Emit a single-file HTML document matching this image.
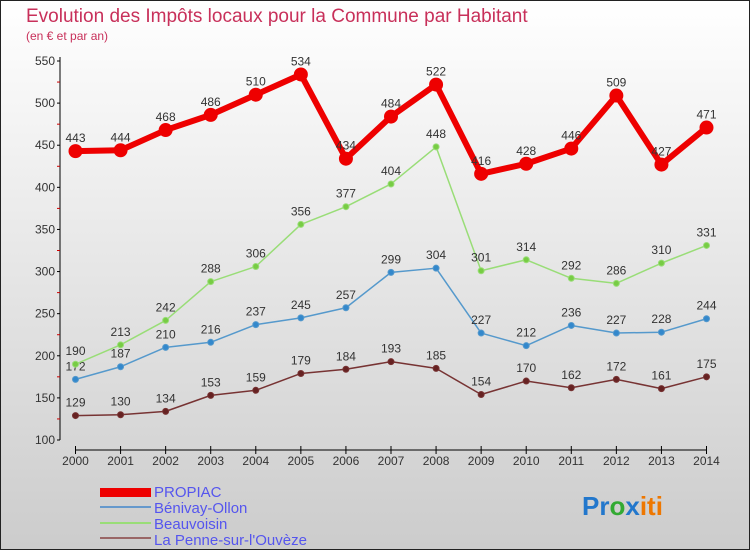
<!DOCTYPE html>
<html><head><meta charset="utf-8"><style>
body{margin:0}
#c{width:750px;height:550px;position:relative;overflow:hidden;font-family:"Liberation Sans",sans-serif}
svg text{font-family:"Liberation Sans",sans-serif}
</style></head><body>
<div id="c">
<svg id="s" width="750" height="550" xmlns="http://www.w3.org/2000/svg">
<defs><linearGradient id="bg" x1="0" y1="0" x2="0" y2="1"><stop offset="0" stop-color="#ffffff"/><stop offset="1" stop-color="#cccccc"/></linearGradient></defs>
<rect x="0.5" y="0.5" width="749" height="549" fill="url(#bg)" stroke="#222"/>
<text x="26" y="22" font-size="19" fill="#c8305a">Evolution des Impôts locaux pour la Commune par Habitant</text>
<text x="26" y="40" font-size="12" fill="#c8305a">(en € et par an)</text>
<g id="axes"></g><g id="series"></g>
<g>
<rect x="100" y="488" width="51" height="9" fill="#ee0000"/>
<text x="154" y="497" font-size="15" fill="#5555ee">PROPIAC</text>
<line x1="100" y1="507" x2="151" y2="507" stroke="#6699cc" stroke-width="2"/>
<text x="154" y="513" font-size="15" fill="#5555ee">Bénivay-Ollon</text>
<line x1="100" y1="523" x2="151" y2="523" stroke="#99dd77" stroke-width="2"/>
<text x="154" y="529" font-size="15" fill="#5555ee">Beauvoisin</text>
<line x1="100" y1="538" x2="151" y2="538" stroke="#996666" stroke-width="2"/>
<text x="154" y="545" font-size="15" fill="#5555ee">La Penne-sur-l'Ouvèze</text>
</g>
<text x="582" y="515" font-size="26" font-weight="bold"><tspan fill="#2277cc">Pr</tspan><tspan fill="#33aa33">o</tspan><tspan fill="#2277cc">x</tspan><tspan fill="#ee7700">iti</tspan></text>
</svg>
</div>
<script>
const years=[2000,2001,2002,2003,2004,2005,2006,2007,2008,2009,2010,2011,2012,2013,2014];
const yTicks=[100,150,200,250,300,350,400,450,500,550];
const propiac=[443,444,468,486,510,534,434,484,522,416,428,446,509,427,471];
const benivay=[172,187,210,216,237,245,257,299,304,227,212,236,227,228,244];
const beauvoisin=[190,213,242,288,306,356,377,404,448,301,314,292,286,310,331];
const lapenne=[129,130,134,153,159,179,184,193,185,154,170,162,172,161,175];
const NS="http://www.w3.org/2000/svg";
const X=i=>75.5+i*(706.5-75.5)/14;
const Y=v=>440-(v-100)*(440-61)/450;
function mk(tag,attrs,parent){const e=document.createElementNS(NS,tag);for(const k in attrs)e.setAttribute(k,attrs[k]);parent.appendChild(e);return e;}
const ax=document.getElementById('axes');
let a=mk('line',{x1:60,y1:Y(550)-4,x2:60,y2:Y(100),stroke:'#000'},ax);


a=mk('line',{x1:X(0),y1:450,x2:X(14),y2:450,stroke:'#000'},ax);


yTicks.forEach(v=>{
 mk('line',{x1:57,y1:Y(v),x2:60,y2:Y(v),stroke:'#000'},ax);
 const t=mk('text',{x:55,y:Y(v)+4,'font-size':12,fill:'#333','text-anchor':'end'},ax);t.textContent=v;
 
 
 if(v<550){mk('line',{x1:57,y1:Y(v+25),x2:60,y2:Y(v+25),stroke:'#cc0000'},ax);}
});
years.forEach((yr,i)=>{
 mk('line',{x1:X(i),y1:446,x2:X(i),y2:454,stroke:'#000'},ax);
 const t=mk('text',{x:X(i),y:465,'font-size':12,fill:'#333','text-anchor':'middle'},ax);t.textContent=yr;
 
 
});
const sg=document.getElementById('series');
function series(vals,color,dot,w,r,name){
 const g=mk('g',{},sg);
 
 
 const p=mk('polyline',{points:vals.map((v,i)=>X(i)+','+Y(v)).join(' '),fill:'none',stroke:color,'stroke-width':w,'stroke-linejoin':'round'},g);
 
 
 vals.forEach((v,i)=>{
  const c=mk('circle',{cx:X(i),cy:Y(v),r:r,fill:dot,stroke:color,'stroke-width':1},g);
  
  
  const t=mk('text',{x:X(i),y:Y(v)-9,'font-size':12,fill:'#333','text-anchor':'middle'},g);t.textContent=v;
  
  
 });
}
series(lapenne,'#773333','#662222',1.5,3,'la-penne');
series(benivay,'#5599cc','#3388cc',1.5,3,'benivay');
series(beauvoisin,'#99dd77','#77cc44',1.5,3,'beauvoisin');
series(propiac,'#ee0000','#ee0000',6,6.5,'propiac');
</script>
</body></html>
